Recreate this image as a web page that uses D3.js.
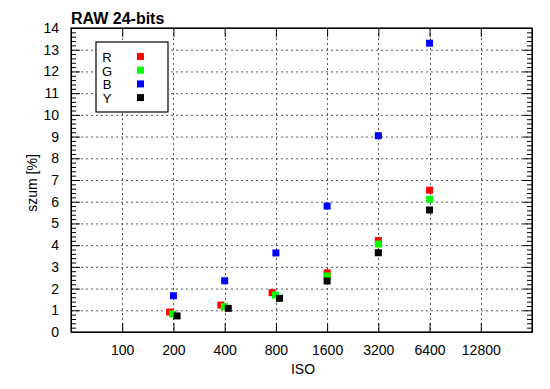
<!DOCTYPE html>
<html>
<head>
<meta charset="utf-8">
<script src="https://cdn.jsdelivr.net/npm/d3@7"></script>
<style>
  body { margin: 0; background: #fff; }
  svg text { font-family: "Liberation Sans", Arial, sans-serif; }
</style>
</head>
<body>
<div id="chart"></div>
<script>
// data
var isoTicks = [100, 200, 400, 800, 1600, 3200, 6400, 12800];
var isoR = [190, 380, 760, 1600, 3200, 6400];
var isoG = [198, 398, 795, 1600, 3200, 6400];
var isoB = [200, 400, 800, 1600, 3200, 6400];
var isoY = [210, 420, 840, 1600, 3200, 6400];
var noiseR = [0.92, 1.24, 1.81, 2.72, 4.21, 6.53];
var noiseG = [0.83, 1.17, 1.70, 2.58, 4.05, 6.11];
var noiseB = [1.67, 2.36, 3.64, 5.80, 9.04, 13.30];
var noiseY = [0.74, 1.09, 1.55, 2.35, 3.65, 5.62];
var seriesNames = ['R', 'G', 'B', 'Y'];
var seriesColors = ['#ff0000', '#00ff00', '#0000ff', '#000000'];

var W = 550, H = 389;
var margin = {top: 28, right: 18, bottom: 57, left: 71};
var width = W - margin.left - margin.right;
var height = H - margin.top - margin.bottom;

var svg = d3.select('#chart').append('svg')
  .attr('width', W).attr('height', H);

var g = svg.append('g')
  .attr('transform', 'translate(' + margin.left + ',' + margin.top + ')');

var x = d3.scaleLog().base(2).domain([50, 25600]).range([0, width]);
var y = d3.scaleLinear().domain([0, 14]).range([height, 0]);

var yMajor = d3.range(0, 15);
var yMinor = d3.range(0, 70).map(function(d) { return d / 5; }).filter(function(d) { return d % 1 !== 0; });

// grid
g.selectAll('.hgrid').data(yMajor.filter(function(d) { return d > 0 && d < 14; }))
  .enter().append('line')
  .attr('x1', 0).attr('x2', width)
  .attr('y1', function(d) { return y(d) + 0.5; })
  .attr('y2', function(d) { return y(d) + 0.5; })
  .attr('stroke', '#555').attr('stroke-width', 1)
  .attr('stroke-dasharray', '2,3');

g.selectAll('.vgrid').data(isoTicks)
  .enter().append('line')
  .attr('x1', function(d) { return Math.round(x(d)) + 0.5; })
  .attr('x2', function(d) { return Math.round(x(d)) + 0.5; })
  .attr('y1', 0).attr('y2', height)
  .attr('stroke', '#555').attr('stroke-width', 1)
  .attr('stroke-dasharray', '2,3');

// axes with inward ticks
var yLeft = g.append('g')
  .call(d3.axisLeft(y).tickValues(yMajor).tickSize(-9).tickPadding(12).tickFormat(d3.format('d')));
yLeft.append('g')
  .call(d3.axisLeft(y).tickValues(yMinor).tickSize(-5).tickFormat(''));

var yRight = g.append('g').attr('transform', 'translate(' + width + ',0)')
  .call(d3.axisRight(y).tickValues(yMajor).tickSize(-9).tickFormat(''));
yRight.append('g')
  .call(d3.axisRight(y).tickValues(yMinor).tickSize(-5).tickFormat(''));

g.append('g').attr('transform', 'translate(0,' + height + ')')
  .call(d3.axisBottom(x).tickValues(isoTicks).tickSize(-9).tickPadding(13).tickFormat(d3.format('d')));

g.append('g')
  .call(d3.axisTop(x).tickValues(isoTicks).tickSize(-9).tickFormat(''));

g.selectAll('.domain').attr('stroke', '#000');
g.selectAll('.tick line').attr('stroke', '#000');
g.selectAll('.tick text').attr('font-size', 14).attr('fill', '#000')
  .style('font-family', '"Liberation Sans", Arial, sans-serif');

// frame
g.append('rect').attr('x', 0).attr('y', 0).attr('width', width).attr('height', height)
  .attr('fill', 'none').attr('stroke', '#000').attr('stroke-width', 1.2);

// points
var isoAll = [isoR, isoG, isoB, isoY];
var noiseAll = [noiseR, noiseG, noiseB, noiseY];
var ms = 7;
seriesNames.forEach(function(name, si) {
  var pts = isoAll[si].map(function(v, i) { return {iso: v, val: noiseAll[si][i]}; });
  g.selectAll('.pt-' + name).data(pts).enter().append('rect')
    .attr('x', function(d) { return x(d.iso) - ms / 2; })
    .attr('y', function(d) { return y(d.val) - ms / 2; })
    .attr('width', ms).attr('height', ms)
    .attr('fill', seriesColors[si]);
});

// legend
var leg = svg.append('g').attr('transform', 'translate(96,42)');
leg.append('rect').attr('x', 0).attr('y', 0).attr('width', 72).attr('height', 70)
  .attr('fill', '#fff').attr('stroke', '#000').attr('stroke-width', 1.2);
seriesNames.forEach(function(name, i) {
  leg.append('text').attr('x', 11).attr('y', 20 + i * 13.7)
    .attr('text-anchor', 'middle').attr('font-size', 13).text(name);
  leg.append('rect').attr('x', 41).attr('y', 11 + i * 13.7)
    .attr('width', ms).attr('height', ms).attr('fill', seriesColors[i]);
});

// titles
svg.append('text').attr('x', 71).attr('y', 24)
  .attr('font-size', 16).attr('font-weight', 'bold').text('RAW 24-bits');

svg.append('text').attr('x', 303).attr('y', 374)
  .attr('text-anchor', 'middle').attr('font-size', 14).text('ISO');

svg.append('text')
  .attr('transform', 'translate(37,' + (margin.top + height / 2 + 3) + ') rotate(-90)')
  .attr('text-anchor', 'middle').attr('font-size', 14).text('szum [%]');
</script>
</body>
</html>
